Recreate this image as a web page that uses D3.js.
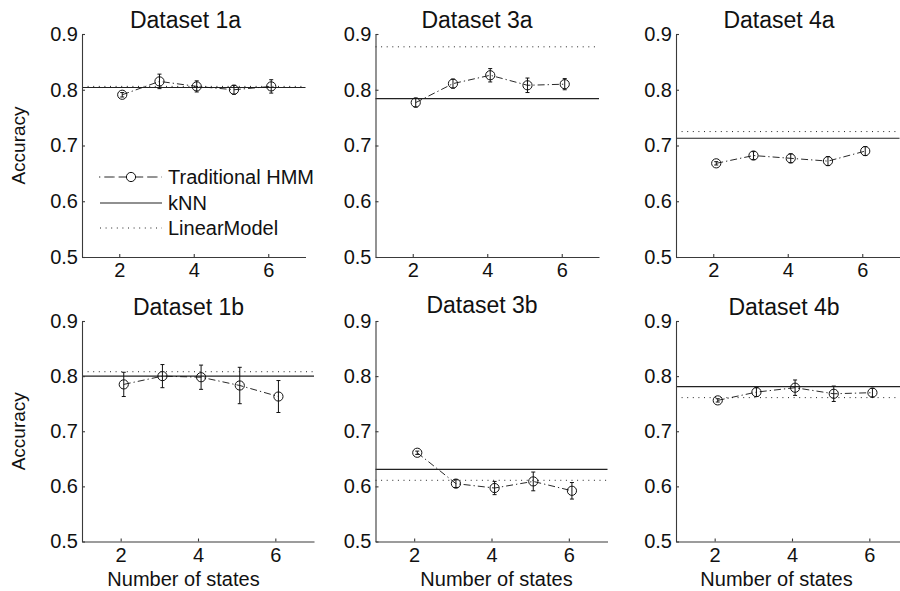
<!DOCTYPE html>
<html><head><meta charset="utf-8">
<script src="https://cdn.jsdelivr.net/npm/d3@7"></script>
<style>
html,body{margin:0;padding:0;background:#fff;}
svg{display:block;font-family:"Liberation Sans",Arial,sans-serif;}
</style></head>
<body><svg id="c" width="900" height="591"></svg>
<script>
// ---- data ----
const states = [2, 3, 4, 5, 6];
const xTicks = [2, 4, 6];
const yTicks = [0.5, 0.6, 0.7, 0.8, 0.9];
const titles = ["Dataset 1a", "Dataset 3a", "Dataset 4a", "Dataset 1b", "Dataset 3b", "Dataset 4b"];
const seriesNames = ["Traditional HMM", "kNN", "LinearModel"];
const hmm1a = [0.791, 0.815, 0.806, 0.800, 0.806];
const err1a = [0.004, 0.013, 0.010, 0.008, 0.012];
const hmm3a = [0.777, 0.811, 0.826, 0.808, 0.810];
const err3a = [0.008, 0.008, 0.012, 0.013, 0.010];
const hmm4a = [0.668, 0.682, 0.677, 0.672, 0.690];
const err4a = [0.003, 0.007, 0.008, 0.008, 0.008];
const hmm1b = [0.785, 0.800, 0.798, 0.783, 0.763];
const err1b = [0.022, 0.021, 0.022, 0.033, 0.029];
const hmm3b = [0.661, 0.605, 0.597, 0.609, 0.592];
const err3b = [0.003, 0.007, 0.012, 0.017, 0.015];
const hmm4b = [0.756, 0.771, 0.779, 0.768, 0.770];
const err4b = [0.003, 0.008, 0.014, 0.014, 0.008];
const knn = [0.804, 0.784, 0.713, 0.800, 0.631, 0.781];
const linearModel = [0.806, 0.877, 0.725, 0.808, 0.611, 0.761];
const hmmAll = [hmm1a, hmm3a, hmm4a, hmm1b, hmm3b, hmm4b];
const errAll = [err1a, err3a, err4a, err1b, err3b, err4b];

// ---- layout ----
const panels = [
  {x0: 82,    x1: 305.5, y0: 257,   y1: 34,  tx: 185.5, ty: 27.5},
  {x0: 375.5, x1: 599,   y0: 257,   y1: 34,  tx: 477,   ty: 27.5},
  {x0: 676,   x1: 899.5, y0: 257,   y1: 34,  tx: 779,   ty: 27.5},
  {x0: 82,    x1: 314,   y0: 541.5, y1: 321, tx: 188.5, ty: 315, xl: 183.5},
  {x0: 375.5, x1: 607.5, y0: 541.5, y1: 321, tx: 482,   ty: 313, xl: 496.5},
  {x0: 676,   x1: 908,   y0: 541.5, y1: 321, tx: 784,   ty: 315, xl: 776.5}
];
const svg = d3.select("#c");
const axisColor = "#3a3a3a";
const xOff = 0.08;

panels.forEach((p, i) => {
  const x = d3.scaleLinear().domain([1, 7]).range([p.x0, p.x1]);
  const y = d3.scaleLinear().domain([0.5, 0.9]).range([p.y0, p.y1]);
  const g = svg.append("g");

  // reference lines
  g.append("line").attr("x1", x(1)).attr("x2", x(7))
    .attr("y1", y(linearModel[i])).attr("y2", y(linearModel[i]))
    .attr("stroke", "#222").attr("stroke-width", 1).attr("stroke-dasharray", "1,4.6");
  g.append("line").attr("x1", x(1)).attr("x2", x(7))
    .attr("y1", y(knn[i])).attr("y2", y(knn[i]))
    .attr("stroke", "#222").attr("stroke-width", 1.2);

  // axes
  const ya = d3.axisLeft(y).tickValues(yTicks).tickFormat(d3.format(".1f"))
    .tickSizeInner(-3).tickSizeOuter(0).tickPadding(4);
  const xa = d3.axisBottom(x).tickValues(xTicks).tickFormat(d3.format("d"))
    .tickSizeInner(-3).tickSizeOuter(0).tickPadding(6);
  const yg = g.append("g").attr("transform", `translate(${p.x0},0)`).call(ya);
  const xg = g.append("g").attr("transform", `translate(0,${p.y0})`).call(xa);
  [yg, xg].forEach(a => {
    a.selectAll("path,line").attr("stroke", axisColor).attr("stroke-width", 1.1);
    a.selectAll("text").attr("fill", "#111").style("font-size", "20px")
      .style("font-family", '"Liberation Sans",Arial,sans-serif');
  });

  // HMM series
  const hv = hmmAll[i], ev = errAll[i];
  const pts = states.map((s, k) => ({s, v: hv[k], e: ev[k]}));
  g.append("path").datum(pts)
    .attr("d", d3.line().x(d => x(d.s + xOff)).y(d => y(d.v)))
    .attr("fill", "none").attr("stroke", "#111").attr("stroke-width", 0.9)
    .attr("stroke-dasharray", "7,3,1.3,3");
  const eb = g.selectAll(".eb").data(pts).enter().append("g");
  eb.append("line").attr("x1", d => x(d.s + xOff)).attr("x2", d => x(d.s + xOff))
    .attr("y1", d => y(d.v - d.e)).attr("y2", d => y(d.v + d.e))
    .attr("stroke", "#111").attr("stroke-width", 1);
  [-1, 1].forEach(sg => {
    eb.append("line").attr("x1", d => x(d.s + xOff) - 2).attr("x2", d => x(d.s + xOff) + 2)
      .attr("y1", d => y(d.v + sg * d.e)).attr("y2", d => y(d.v + sg * d.e))
      .attr("stroke", "#111").attr("stroke-width", 1);
  });
  eb.append("circle").attr("cx", d => x(d.s + xOff)).attr("cy", d => y(d.v)).attr("r", 4.6)
    .attr("fill", "none").attr("stroke", "#111").attr("stroke-width", 1);

  // title
  g.append("text").attr("x", p.tx).attr("y", p.ty).attr("text-anchor", "middle")
    .style("font-size", "23px").attr("fill", "#111").text(titles[i]);

  // axis labels
  if (i % 3 === 0) {
    const cy = (p.y0 + p.y1) / 2 + 0;
    g.append("text").attr("transform", `translate(25,${cy}) rotate(-90)`)
      .attr("text-anchor", "middle").style("font-size", "19px").attr("fill", "#111").text("Accuracy");
  }
  if (i >= 3) {
    g.append("text").attr("x", p.xl).attr("y", 586).attr("text-anchor", "middle")
      .style("font-size", "20px").attr("fill", "#111").text("Number of states");
  }
});

// legend (first panel)
const lg = svg.append("g");
const legY = [177, 203, 228];
lg.append("line").attr("x1", 99).attr("x2", 162).attr("y1", legY[0]).attr("y2", legY[0])
  .attr("stroke", "#111").attr("stroke-width", 0.9).attr("stroke-dasharray", "1.3,4,9,0");
lg.append("circle").attr("cx", 131).attr("cy", legY[0]).attr("r", 4.6)
  .attr("fill", "#fff").attr("stroke", "#111").attr("stroke-width", 1);
lg.append("line").attr("x1", 100).attr("x2", 162).attr("y1", legY[1]).attr("y2", legY[1])
  .attr("stroke", "#222").attr("stroke-width", 1.2);
lg.append("line").attr("x1", 100).attr("x2", 162).attr("y1", legY[2]).attr("y2", legY[2])
  .attr("stroke", "#222").attr("stroke-width", 1).attr("stroke-dasharray", "1,4.6");
seriesNames.forEach((n, k) => {
  lg.append("text").attr("x", 168).attr("y", legY[k]).attr("dy", "0.35em")
    .style("font-size", "20px").attr("fill", "#111").text(n);
});
</script></body></html>
